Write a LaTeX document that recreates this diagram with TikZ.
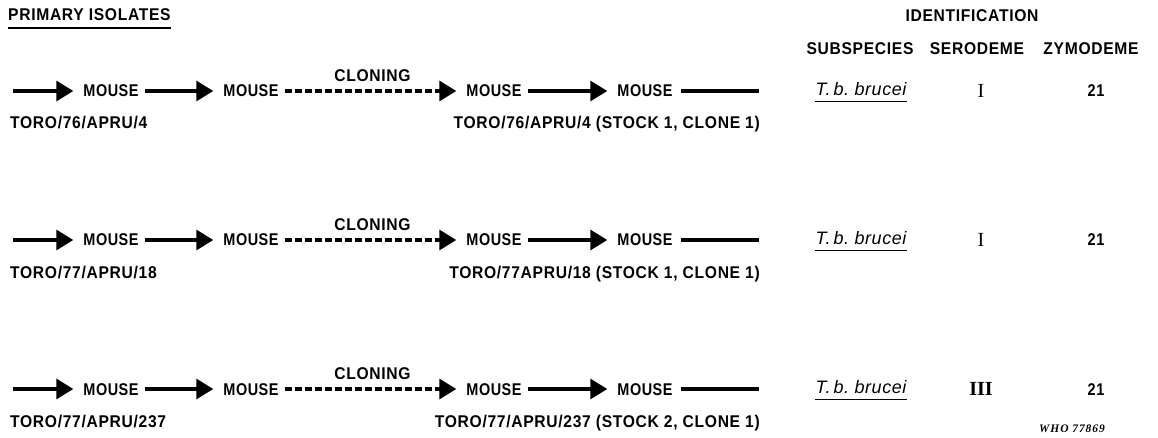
\documentclass[tikz,border=0pt]{standalone}
\usepackage{fontspec}
\usetikzlibrary{arrows.meta}
\newfontfamily\cf[FakeStretch=0.85,LetterSpace=3]{Liberation Sans}
\newfontfamily\lf[FakeStretch=0.92,LetterSpace=4]{Liberation Sans}
\newfontfamily\itf[LetterSpace=3]{Liberation Sans}
\newfontfamily\serf{Liberation Serif}
\newfontfamily\whof[LetterSpace=8]{Liberation Serif}
\tikzset{
  txt/.style={inner sep=0pt, font=\cf\bfseries\fontsize{17}{20}\selectfont, text height=12pt, text depth=0pt},
  lbl/.style={inner sep=0pt, font=\lf\bfseries\fontsize{17}{20}\selectfont, text height=12pt, text depth=0pt},
  arr/.style={line width=3.2pt, -{Triangle[length=17pt,width=20pt]}, shorten >=10pt, shorten <=6pt},
  dsh/.style={arr, dash pattern=on 7pt off 3pt},
  pln/.style={line width=3.2pt, shorten <=8pt},
  ul/.style={line width=1.3pt}
}
\newcommand\prow[6]{%
  \coordinate (s#1) at (7,#2);
  \node[txt] (a#1) at (111,#2) {MOUSE};
  \node[txt] (b#1) at (251,#2) {MOUSE};
  \node[txt] (c#1) at (494,#2) {MOUSE};
  \node[txt] (d#1) at (645,#2) {MOUSE};
  \coordinate (e#1) at (759,#2);
  \draw[arr] (s#1) -- (a#1.west);
  \draw[arr] (a#1.east) -- (b#1.west);
  \draw[dsh] (b#1.east) -- node[lbl, above=8pt] (cl#1) {CLONING} (c#1.west);
  \draw[arr] (c#1.east) -- (d#1.west);
  \draw[pln] (d#1.east) -- (e#1);
  \node[lbl, anchor=west] (l#1) at (10,#2+32) {#3};
  \node[lbl, anchor=east] (r#1) at (760,#2+32) {#4};
  \node[inner sep=0pt, font=\itf\itshape\fontsize{18}{20}\selectfont, text height=12.5pt, text depth=0pt] (t#1) at (861,#2-2) {T.\,b.\ brucei};
  \draw[ul] ([yshift=-6pt]t#1.south west) -- ([yshift=-6pt]t#1.south east);
  \node[inner sep=0pt, font=\serf#6\fontsize{20}{22}\selectfont] (g#1) at (981,#2) {#5};
  \node[txt] (z#1) at (1096,#2) {21};
}
\begin{document}
\begin{tikzpicture}[x=1pt,y=-1pt]
\useasboundingbox (0,0) rectangle (1158,438);
\node[lbl, anchor=west] (pi) at (8,15) {PRIMARY ISOLATES};
\draw[line width=1.4pt] ([yshift=-7pt]pi.south west) -- ([yshift=-7pt]pi.south east);
\node[lbl] (id) at (972,16) {IDENTIFICATION};
\node[lbl] (ss) at (860,49) {SUBSPECIES};
\node[lbl] (se) at (977,49) {SERODEME};
\node[lbl] (zy) at (1091,49) {ZYMODEME};
\prow{1}{91}{TORO/76/APRU/4}{TORO/76/APRU/4 (STOCK 1, CLONE 1)}{I}{}
\prow{2}{240}{TORO/77/APRU/18}{TORO/77APRU/18 (STOCK 1, CLONE 1)}{I}{}
\prow{3}{389}{TORO/77/APRU/237}{TORO/77/APRU/237 (STOCK 2, CLONE 1)}{III}{\bfseries}
\node[inner sep=0pt, font=\whof\bfseries\itshape\fontsize{11.5}{12}\selectfont] (who) at (1072,429) {WHO 77869};
\end{tikzpicture}
\end{document}
